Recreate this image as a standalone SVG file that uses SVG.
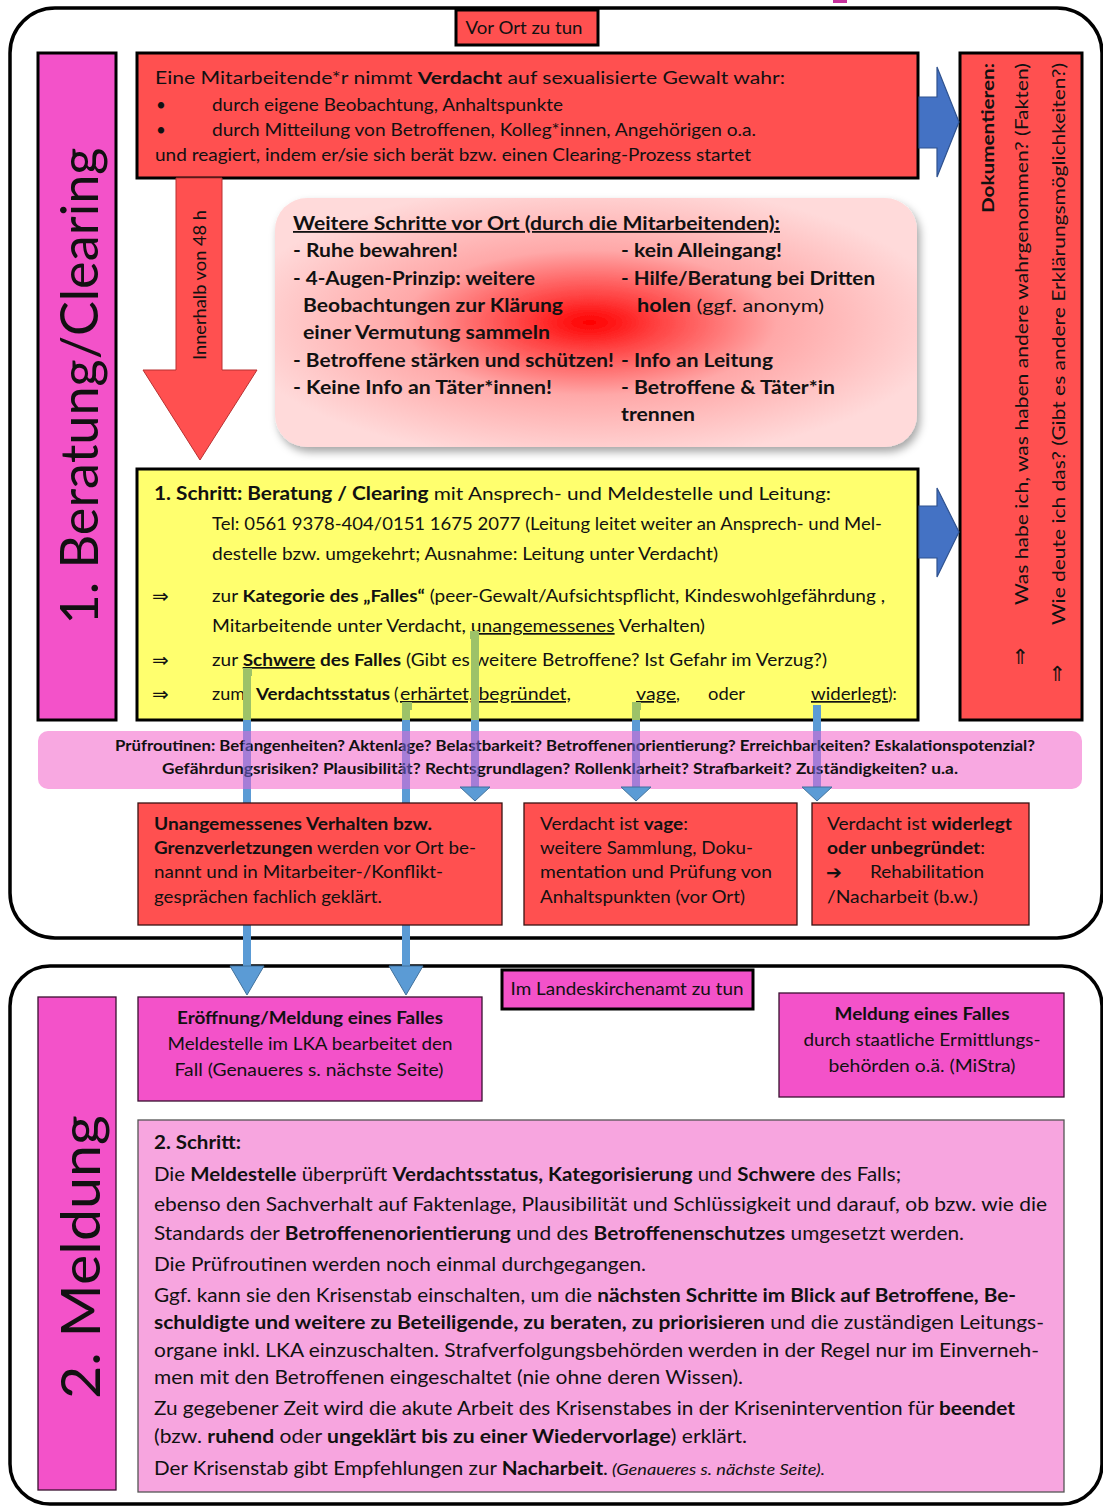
<svg xmlns="http://www.w3.org/2000/svg" width="1103" height="1506" viewBox="0 0 1103 1506">
<defs>
<style>
text{font-family:Lato,"Open Sans","Liberation Sans",sans-serif;fill:#111}
.b{font-weight:700}
.i{font-style:italic}
.u{text-decoration:underline}
.s15{font-size:15px}
.s16{font-size:16.5px}
.s17{font-size:17px}
.s18{font-size:18px}
.s19{font-size:19px}
.mid{text-anchor:middle}
.end{text-anchor:end}
.sym{font-family:"DejaVu Sans",sans-serif}
.cont{fill:#fff;stroke:#000;stroke-width:3.5}
.red{fill:#FF5050;stroke:#000;stroke-width:3}
.redt{fill:#FF5050;stroke:#3a1212;stroke-width:1.3}
.mag{fill:#F352C9;stroke:#000;stroke-width:3}
.magt{fill:#F352C9;stroke:#3a1030;stroke-width:1.3}
.bl{stroke:#5B9BD5;stroke-width:8;fill:none}
.gr{stroke:#9DC268;stroke-width:8;fill:none}
.pu{stroke:#6E61D0;stroke-opacity:0.6;stroke-width:8;fill:none}
.ah{fill:#5B9BD5;stroke:#41719C;stroke-width:1}
.barrow{fill:#4472C4;stroke:#2F528F;stroke-width:1.2}
</style>
<radialGradient id="rg" cx="0.49" cy="0.5" r="0.56">
<stop offset="0" stop-color="#FF0000"/>
<stop offset="0.2" stop-color="#FF4545"/>
<stop offset="0.52" stop-color="#FFA8A8"/>
<stop offset="1" stop-color="#FFDADA"/>
</radialGradient>
<filter id="sh" x="-5%" y="-8%" width="112%" height="125%">
<feDropShadow dx="3" dy="5" stdDeviation="4" flood-color="#000" flood-opacity="0.35"/>
</filter>
</defs>

<rect x="833" y="0" width="14" height="3" fill="#C8319E"/>

<g id="container-vor-ort">
<rect class="cont" x="10" y="8" width="1092" height="930" rx="45"/>
</g>
<g id="container-lka">
<rect class="cont" x="10" y="966" width="1092" height="538" rx="40"/>
</g>

<g id="label-vor-ort">
<rect class="red" x="456" y="10" width="142" height="35"/>
<text class="s17 mid" x="524" y="34" textLength="117" lengthAdjust="spacingAndGlyphs">Vor Ort zu tun</text>
</g>

<g id="label-beratung">
<rect class="mag" x="38" y="53" width="78" height="667"/>
<text class="mid" font-size="52" transform="translate(98,386) rotate(-90)" textLength="477" lengthAdjust="spacingAndGlyphs">1. Beratung/Clearing</text>
</g>

<g id="verdacht">
<rect class="red" x="137" y="53" width="781" height="125"/>
<text class="s17" x="155" y="84" textLength="630" lengthAdjust="spacingAndGlyphs">Eine Mitarbeitende*r nimmt <tspan class="b">Verdacht</tspan> auf sexualisierte Gewalt wahr:</text>
<text class="s17" x="156" y="111">•</text>
<text class="s17" x="212" y="111" textLength="351" lengthAdjust="spacingAndGlyphs">durch eigene Beobachtung, Anhaltspunkte</text>
<text class="s17" x="156" y="136">•</text>
<text class="s17" x="212" y="136" textLength="544" lengthAdjust="spacingAndGlyphs">durch Mitteilung von Betroffenen, Kolleg*innen, Angehörigen o.a.</text>
<text class="s17" x="155" y="161" textLength="596" lengthAdjust="spacingAndGlyphs">und reagiert, indem er/sie sich berät bzw. einen Clearing-Prozess startet</text>
</g>

<g id="dokumentieren">
<rect class="red" x="960" y="53" width="122" height="667"/>
<text class="s17 b end" transform="translate(994,63) rotate(-90)" textLength="150" lengthAdjust="spacingAndGlyphs">Dokumentieren:</text>
<text class="s18 end" transform="translate(1028,63) rotate(-90)" textLength="542" lengthAdjust="spacingAndGlyphs">Was habe ich, was haben andere wahrgenommen? (Fakten)</text>
<text class="s18 end" transform="translate(1065,63) rotate(-90)" textLength="562" lengthAdjust="spacingAndGlyphs">Wie deute ich das? (Gibt es andere Erklärungsmöglichkeiten?)</text>
<text class="sym mid" font-size="21" x="1020" y="664">⇑</text>
<text class="sym mid" font-size="21" x="1057" y="681">⇑</text>
</g>

<g id="pfeil-48h">
<polygon points="176,178 222,178 222,370 257,370 200,460 143,370 176,370" fill="#FF5050" stroke="#B83030" stroke-width="1"/>
<text class="s16 mid" transform="translate(206,285) rotate(-90)" textLength="150" lengthAdjust="spacingAndGlyphs">Innerhalb von 48 h</text>
</g>

<g id="weitere-schritte">
<rect x="275" y="198" width="642" height="249" rx="32" fill="url(#rg)" filter="url(#sh)"/>
<text class="s18 b u" x="293" y="230" textLength="487" lengthAdjust="spacingAndGlyphs">Weitere Schritte vor Ort (durch die Mitarbeitenden):</text>
<text class="s18 b" x="293" y="257" textLength="165" lengthAdjust="spacingAndGlyphs">- Ruhe bewahren!</text>
<text class="s18 b" x="293" y="285" textLength="242" lengthAdjust="spacingAndGlyphs">- 4-Augen-Prinzip: weitere</text>
<text class="s18 b" x="303" y="312" textLength="260" lengthAdjust="spacingAndGlyphs">Beobachtungen  zur Klärung</text>
<text class="s18 b" x="303" y="339" textLength="247" lengthAdjust="spacingAndGlyphs">einer Vermutung sammeln</text>
<text class="s18 b" x="293" y="367" textLength="321" lengthAdjust="spacingAndGlyphs">- Betroffene stärken und schützen!</text>
<text class="s18 b" x="293" y="394" textLength="259" lengthAdjust="spacingAndGlyphs">- Keine Info an Täter*innen!</text>
<text class="s18 b" x="621" y="257" textLength="161" lengthAdjust="spacingAndGlyphs">- kein Alleingang!</text>
<text class="s18 b" x="621" y="285" textLength="254" lengthAdjust="spacingAndGlyphs">- Hilfe/Beratung bei Dritten</text>
<text class="s18" x="637" y="312" textLength="187" lengthAdjust="spacingAndGlyphs"><tspan class="b">holen</tspan>  (ggf. anonym)</text>
<text class="s18 b" x="621" y="367" textLength="152" lengthAdjust="spacingAndGlyphs">- Info an Leitung</text>
<text class="s18 b" x="621" y="394" textLength="214" lengthAdjust="spacingAndGlyphs">- Betroffene &amp; Täter*in</text>
<text class="s18 b" x="621" y="421" textLength="74" lengthAdjust="spacingAndGlyphs">trennen</text>
</g>

<g id="schritt1">
<rect x="137" y="469" width="781" height="251" fill="#FFFF6E" stroke="#000" stroke-width="3"/>
<text class="s18" x="154" y="500" textLength="677" lengthAdjust="spacingAndGlyphs"><tspan class="b">1. Schritt: Beratung / Clearing</tspan> mit Ansprech- und Meldestelle und Leitung:</text>
<text class="s17" x="212" y="530" textLength="670" lengthAdjust="spacingAndGlyphs">Tel: 0561 9378-404/0151 1675 2077 (Leitung leitet weiter an Ansprech- und Mel-</text>
<text class="s17" x="212" y="560" textLength="506" lengthAdjust="spacingAndGlyphs">destelle bzw. umgekehrt; Ausnahme: Leitung unter Verdacht)</text>
<text class="sym" font-size="20" x="152" y="603">⇒</text>
<text class="s17" x="212" y="602" textLength="673" lengthAdjust="spacingAndGlyphs">zur <tspan class="b">Kategorie des „Falles“</tspan> (peer-Gewalt/Aufsichtspflicht, Kindeswohlgefährdung ,</text>
<text class="s17" x="212" y="632" textLength="493" lengthAdjust="spacingAndGlyphs">Mitarbeitende unter Verdacht, <tspan class="u">unangemessenes</tspan> Verhalten)</text>
<text class="sym" font-size="20" x="152" y="667">⇒</text>
<text class="s17" x="212" y="666" textLength="615" lengthAdjust="spacingAndGlyphs">zur <tspan class="b"><tspan class="u">Schwere</tspan> des Falles</tspan> (Gibt es weitere Betroffene? Ist Gefahr im Verzug?)</text>
<text class="sym" font-size="20" x="152" y="701">⇒</text>
<text class="s17" x="212" y="700" textLength="33" lengthAdjust="spacingAndGlyphs">zum</text>
<text class="s17 b" x="256" y="700" textLength="134" lengthAdjust="spacingAndGlyphs">Verdachtsstatus</text>
<text class="s17" x="394" y="700">(</text>
<text class="s17 u" x="400" y="700" textLength="171" lengthAdjust="spacingAndGlyphs">erhärtet, begründet,</text>
<text class="s17 u" x="636" y="700" textLength="40" lengthAdjust="spacingAndGlyphs">vage</text>
<text class="s17" x="676" y="700">,</text>
<text class="s17" x="708" y="700" textLength="37" lengthAdjust="spacingAndGlyphs">oder</text>
<text class="s17 u" x="811" y="700" textLength="77" lengthAdjust="spacingAndGlyphs">widerlegt</text>
<text class="s17" x="888" y="700">):</text>
</g>

<g id="arrow-doku-1">
<polygon class="barrow" points="919,97 937,97 937,67 959,122 937,177 937,148 919,148"/>
</g>
<g id="arrow-doku-2">
<polygon class="barrow" points="919,506 937,506 937,488 959,532 937,577 937,558 919,558"/>
</g>

<g id="pruefroutinen">
<rect x="38" y="731" width="1044" height="58" rx="10" fill="#F8A8E1"/>
<text class="s15 b" x="115" y="751" textLength="920" lengthAdjust="spacingAndGlyphs">Prüfroutinen: Befangenheiten? Aktenlage? Belastbarkeit? Betroffenenorientierung? Erreichbarkeiten?  Eskalationspotenzial?</text>
<text class="s15 b" x="162" y="774" textLength="796" lengthAdjust="spacingAndGlyphs">Gefährdungsrisiken? Plausibilität? Rechtsgrundlagen? Rollenklarheit? Strafbarkeit? Zuständigkeiten? u.a.</text>
</g>

<g id="connectors">
<path class="gr" d="M247 671 V720"/>
<path class="gr" d="M243 672 H252" stroke-width="4"/>
<path class="bl" d="M247 720 V731"/>
<path class="pu" d="M247 731 V789"/>
<path class="bl" d="M247 789 V968"/>
<polygon class="ah" points="230,966 264,966 247,995"/>

<path class="gr" d="M406 705 V720"/>
<path class="gr" d="M402 706 H412" stroke-width="4"/>
<path class="bl" d="M406 720 V731"/>
<path class="pu" d="M406 731 V789"/>
<path class="bl" d="M406 789 V968"/>
<polygon class="ah" points="389,966 423,966 406,995"/>

<path class="gr" d="M475 634 V720"/>
<path class="gr" d="M470 635 H479" stroke-width="4"/>
<path class="bl" d="M475 720 V731"/>
<path class="pu" d="M475 731 V787"/>
<polygon class="ah" points="460,787 490,787 475,801"/>

<path class="gr" d="M636 705 V720"/>
<path class="gr" d="M632 706 H641" stroke-width="4"/>
<path class="bl" d="M636 720 V731"/>
<path class="pu" d="M636 731 V787"/>
<polygon class="ah" points="621,787 651,787 636,801"/>

<path class="bl" d="M817 705 V731"/>
<path class="pu" d="M817 731 V787"/>
<polygon class="ah" points="802,787 832,787 817,801"/>
</g>

<g id="unangemessen">
<rect class="redt" x="138" y="803" width="364" height="122"/>
<text class="s16 b" x="154" y="830" textLength="278" lengthAdjust="spacingAndGlyphs">Unangemessenes Verhalten bzw.</text>
<text class="s16" x="154" y="854" textLength="322" lengthAdjust="spacingAndGlyphs"><tspan class="b">Grenzverletzungen</tspan> werden vor Ort be-</text>
<text class="s16" x="154" y="878" textLength="289" lengthAdjust="spacingAndGlyphs">nannt und in Mitarbeiter-/Konflikt-</text>
<text class="s16" x="154" y="903" textLength="228" lengthAdjust="spacingAndGlyphs">gesprächen fachlich geklärt.</text>
</g>

<g id="vage">
<rect class="redt" x="524" y="803" width="273" height="122"/>
<text class="s16" x="540" y="830" textLength="148" lengthAdjust="spacingAndGlyphs">Verdacht ist <tspan class="b">vage</tspan>:</text>
<text class="s16" x="540" y="854" textLength="213" lengthAdjust="spacingAndGlyphs">weitere Sammlung, Doku-</text>
<text class="s16" x="540" y="878" textLength="232" lengthAdjust="spacingAndGlyphs">mentation und  Prüfung von</text>
<text class="s16" x="540" y="903" textLength="205" lengthAdjust="spacingAndGlyphs">Anhaltspunkten (vor Ort)</text>
</g>

<g id="widerlegt">
<rect class="redt" x="812" y="803" width="217" height="122"/>
<text class="s16" x="827" y="830" textLength="185" lengthAdjust="spacingAndGlyphs">Verdacht ist <tspan class="b">widerlegt</tspan></text>
<text class="s16" x="827" y="854" textLength="158" lengthAdjust="spacingAndGlyphs"><tspan class="b">oder unbegründet</tspan>:</text>
<text class="sym b" font-size="19" x="826" y="879">➔</text>
<text class="s16" x="870" y="878" textLength="114" lengthAdjust="spacingAndGlyphs">Rehabilitation</text>
<text class="s16" x="827" y="903" textLength="151" lengthAdjust="spacingAndGlyphs">/Nacharbeit (b.w.)</text>
</g>

<g id="label-lka">
<rect class="mag" x="502" y="970" width="251" height="39"/>
<text class="s16 mid" x="627" y="995" textLength="233" lengthAdjust="spacingAndGlyphs">Im Landeskirchenamt zu tun</text>
</g>

<g id="label-meldung">
<rect class="magt" x="38" y="997" width="78" height="493"/>
<text class="mid" font-size="54" transform="translate(100,1257) rotate(-90)" textLength="284" lengthAdjust="spacingAndGlyphs">2. Meldung</text>
</g>

<g id="eroeffnung">
<rect class="magt" x="138" y="997" width="344" height="104"/>
<text class="s16 b mid" x="310" y="1024" textLength="266" lengthAdjust="spacingAndGlyphs">Eröffnung/Meldung eines Falles</text>
<text class="s16 mid" x="310" y="1050" textLength="285" lengthAdjust="spacingAndGlyphs">Meldestelle im LKA bearbeitet den</text>
<text class="s16 mid" x="309" y="1076" textLength="269" lengthAdjust="spacingAndGlyphs">Fall (Genaueres s. nächste Seite)</text>
</g>

<g id="meldung-staatlich">
<rect class="magt" x="779" y="993" width="285" height="104"/>
<text class="s16 b mid" x="922" y="1020" textLength="175" lengthAdjust="spacingAndGlyphs">Meldung eines Falles</text>
<text class="s16 mid" x="922" y="1046" textLength="237" lengthAdjust="spacingAndGlyphs">durch staatliche Ermittlungs-</text>
<text class="s16 mid" x="922" y="1072" textLength="187" lengthAdjust="spacingAndGlyphs">behörden o.ä. (MiStra)</text>
</g>

<g id="schritt2">
<rect x="138" y="1120" width="926" height="372" fill="#F7A5DF" stroke="#555" stroke-width="1.3"/>
<text class="s19 b" x="154" y="1149" textLength="87" lengthAdjust="spacingAndGlyphs">2. Schritt:</text>
<text class="s19" x="154" y="1181" textLength="747" lengthAdjust="spacingAndGlyphs">Die <tspan class="b">Meldestelle</tspan> überprüft <tspan class="b">Verdachtsstatus, Kategorisierung</tspan> und <tspan class="b">Schwere</tspan> des Falls;</text>
<text class="s19" x="154" y="1211" textLength="893" lengthAdjust="spacingAndGlyphs">ebenso  den Sachverhalt auf Faktenlage, Plausibilität und Schlüssigkeit und darauf, ob bzw. wie die</text>
<text class="s19" x="154" y="1240" textLength="810" lengthAdjust="spacingAndGlyphs">Standards der <tspan class="b">Betroffenenorientierung</tspan> und des <tspan class="b">Betroffenenschutzes</tspan> umgesetzt werden.</text>
<text class="s19" x="154" y="1271" textLength="492" lengthAdjust="spacingAndGlyphs">Die Prüfroutinen werden noch einmal durchgegangen.</text>
<text class="s19" x="154" y="1302" textLength="862" lengthAdjust="spacingAndGlyphs">Ggf. kann sie den Krisenstab einschalten, um die <tspan class="b">nächsten Schritte im Blick auf Betroffene, Be-</tspan></text>
<text class="s19" x="154" y="1329" textLength="890" lengthAdjust="spacingAndGlyphs"><tspan class="b">schuldigte und weitere zu Beteiligende, zu beraten, zu priorisieren</tspan> und die zuständigen Leitungs-</text>
<text class="s19" x="154" y="1357" textLength="885" lengthAdjust="spacingAndGlyphs">organe inkl. LKA  einzuschalten. Strafverfolgungsbehörden werden in der Regel nur im Einverneh-</text>
<text class="s19" x="154" y="1384" textLength="589" lengthAdjust="spacingAndGlyphs">men mit den Betroffenen eingeschaltet (nie ohne deren Wissen).</text>
<text class="s19" x="154" y="1415" textLength="861" lengthAdjust="spacingAndGlyphs">Zu gegebener Zeit wird die akute Arbeit des Krisenstabes in der Krisenintervention für <tspan class="b">beendet</tspan></text>
<text class="s19" x="154" y="1443" textLength="593" lengthAdjust="spacingAndGlyphs">(bzw. <tspan class="b">ruhend</tspan> oder <tspan class="b">ungeklärt bis zu einer Wiedervorlage</tspan>) erklärt.</text>
<text class="s19" x="154" y="1475" textLength="454" lengthAdjust="spacingAndGlyphs">Der Krisenstab gibt Empfehlungen zur <tspan class="b">Nacharbeit</tspan>.</text>
<text class="i" font-size="15" x="612" y="1475" textLength="213" lengthAdjust="spacingAndGlyphs">(Genaueres s. nächste Seite).</text>
</g>
</svg>
